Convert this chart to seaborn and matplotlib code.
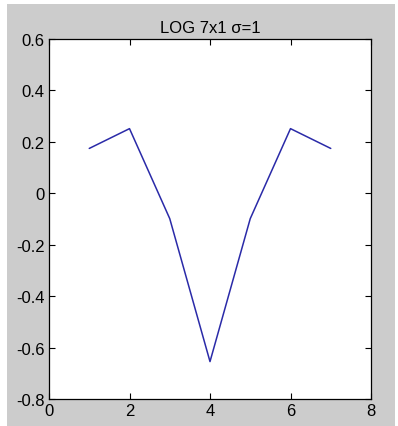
import pandas as pd
import matplotlib.pyplot as plt
import seaborn as sns
from matplotlib.patches import Rectangle

# Valores do filtro LoG 7x1, sigma = 1
posicao = [1, 2, 3, 4, 5, 6, 7]
valores = [0.1744, 0.2514, -0.0986, -0.6545, -0.0986, 0.2514, 0.1744]
ticks_x = [0, 2, 4, 6, 8]
ticks_y = [-0.8, -0.6, -0.4, -0.2, 0, 0.2, 0.4, 0.6]
titulo = 'LOG 7x1 σ=1'

df = pd.DataFrame({'x': posicao, 'y': valores})

sns.set_style('ticks')
plt.rcParams['font.family'] = ['Liberation Sans', 'DejaVu Sans']

fig = plt.figure(figsize=(3.98, 4.27), dpi=100, facecolor='white')
# fundo cinza estilo MATLAB
fig.patches.append(Rectangle((7 / 398, 0), 388 / 398, 422 / 427,
                             transform=fig.transFigure, facecolor='#cccccc',
                             edgecolor='none', zorder=-10))

ax = fig.add_axes([49 / 398, 27 / 427, 322 / 398, 360 / 427])
ax.set_zorder(5)
ax.set_facecolor('white')
sns.lineplot(x='x', y='y', data=df, ax=ax, color='#2a2aa8', linewidth=1.1)

ax.set_xlim(0, 8)
ax.set_ylim(-0.8, 0.6)
ax.set_xticks(ticks_x)
ax.set_yticks(ticks_y)
ax.set_xticklabels([str(t) for t in ticks_x])
ax.set_yticklabels(['-0.8', '-0.6', '-0.4', '-0.2', '0', '0.2', '0.4', '0.6'])
ax.tick_params(direction='in', top=True, right=True, length=4, width=0.8,
               labelsize=12, pad=3, colors='black')
ax.set_xlabel('')
ax.set_ylabel('')
for s in ax.spines.values():
    s.set_visible(True)
    s.set_color('black')
    s.set_linewidth(0.9)

ax.set_title(titulo, fontsize=12, pad=5, color='black')

plt.savefig('out.png', dpi=100, facecolor=fig.get_facecolor())
